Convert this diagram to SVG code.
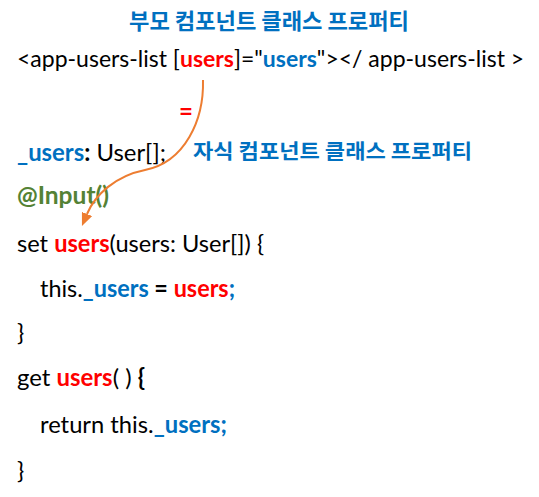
<svg xmlns="http://www.w3.org/2000/svg" width="539" height="497" viewBox="0 0 539 497">
<style>
text{font-family:Lato,"Liberation Sans","Noto Sans CJK KR",sans-serif;font-size:24px;fill:#000;white-space:pre}
.b{font-weight:700}
.red{fill:#FF0000;font-weight:700}
.blue{fill:#0070C0;font-weight:700}
.green{fill:#548235;font-weight:700}
.kr{font-family:"Noto Sans CJK KR",sans-serif;font-weight:700;fill:#0070C0}
</style>
<defs>
<marker id="ah" viewBox="0 0 13 11" refX="0" refY="5.5" markerWidth="13" markerHeight="11" markerUnits="userSpaceOnUse" orient="auto">
<path d="M0,0 L13,5.5 L0,11 z" fill="#ED7D31"/>
</marker>
</defs>
<g id="title"><text class="kr" x="129" y="28.5" style="font-size:22px" textLength="280" lengthAdjust="spacingAndGlyphs">부모 컴포넌트 클래스 프로퍼티</text></g>
<g id="template"><text x="17" y="67" style="font-size:23px">&lt;app-users-list [<tspan class="red">users</tspan>]="<tspan class="blue">users</tspan>"&gt;&lt;/ app-users-list &gt;</text></g>
<g id="equals"><text class="red" x="186" y="120" text-anchor="middle">=</text></g>
<g id="field"><text x="17" y="161" textLength="149" lengthAdjust="spacingAndGlyphs"><tspan class="blue">_users</tspan><tspan class="b">:</tspan> User[];</text></g>
<g id="child-label"><text class="kr" x="193" y="159" style="font-size:20.5px" textLength="279" lengthAdjust="spacingAndGlyphs">자식 컴포넌트 클래스 프로퍼티</text></g>
<g id="decorator"><text class="green" x="17" y="204" textLength="92" lengthAdjust="spacingAndGlyphs">@Input()</text></g>
<g id="setter">
<text x="17" y="252" textLength="247" lengthAdjust="spacingAndGlyphs">set <tspan class="red">users</tspan>(users: User[]) {</text>
<text x="40" y="297" textLength="195" lengthAdjust="spacingAndGlyphs">this.<tspan class="blue">_users</tspan><tspan class="b"> = </tspan><tspan class="red">users</tspan><tspan class="blue">;</tspan></text>
<text x="17" y="341">}</text>
</g>
<g id="getter">
<text x="17" y="386" textLength="128" lengthAdjust="spacingAndGlyphs">get <tspan class="red">users</tspan>( ) <tspan class="b">{</tspan></text>
<text x="40" y="433" textLength="187" lengthAdjust="spacingAndGlyphs">return this.<tspan class="blue">_users;</tspan></text>
<text x="17" y="479">}</text>
</g>
<g id="connectors">
<path d="M203,80 C204,120 185,162 145,170 C115,176 95,195 87,214" fill="none" stroke="#ED7D31" stroke-width="2" marker-end="url(#ah)"/>
</g>
</svg>
